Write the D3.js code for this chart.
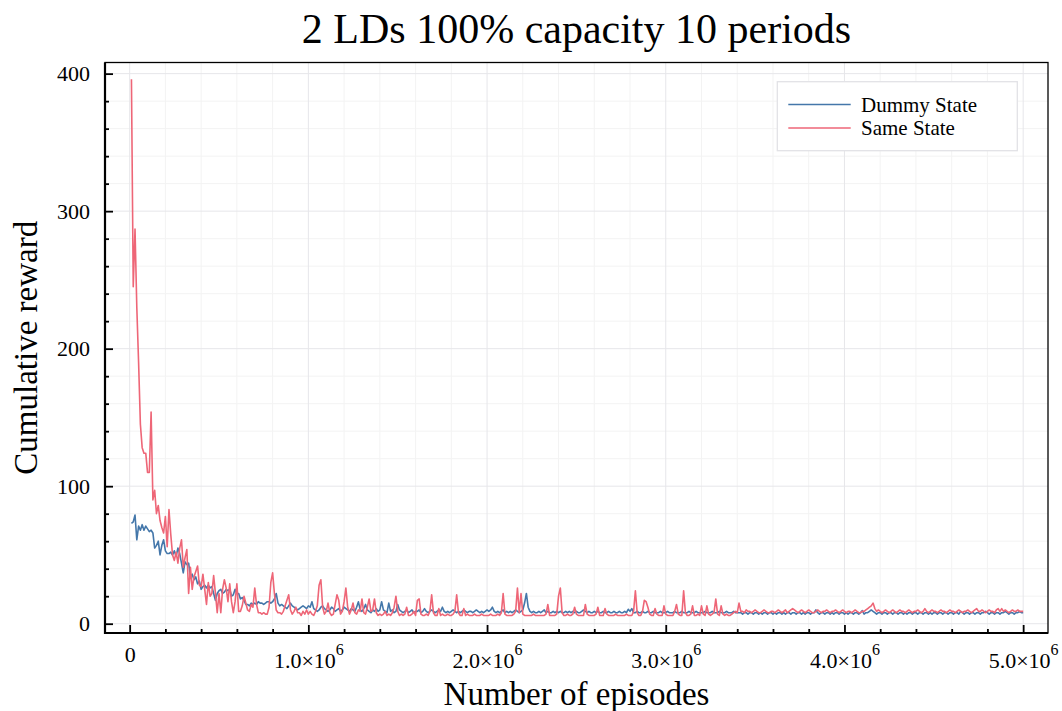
<!DOCTYPE html>
<html>
<head>
<meta charset="utf-8">
<script src="https://cdn.jsdelivr.net/npm/d3@7"></script>
<style>
  body { margin: 0; background: #fff; }
  svg { display: block; }
  text { font-family: "Liberation Serif", "Times New Roman", serif; fill: #000; }
</style>
</head>
<body>
<svg id="chart" width="1062" height="711"></svg>
<script>
// ---- chart data -------------------------------------------------------
const chartTitle = "2 LDs 100% capacity 10 periods";
const xAxisTitle = "Number of episodes";
const yAxisTitle = "Cumulative reward";
const seriesNames = ["Dummy State", "Same State"];
const seriesColors = ["#4477aa", "#ee6677"];

// one sample every 10 000 episodes, first sample at 10 000
const episodeStep = 10000;

const dummyState = [
  73, 74, 79, 61, 71, 68, 72, 68, 71, 69, 67, 68, 66, 55, 57, 60, 50, 57, 61, 53,
  51, 51, 52, 50, 53, 49, 55, 51, 44, 37, 45, 43, 44, 34, 36, 32, 34, 29, 31, 25,
  27, 28, 26, 28, 26, 27, 22, 17, 22, 24, 25, 22, 23, 25, 24, 25, 20, 21, 25, 22,
  22, 18, 19, 17, 14, 14, 13, 15, 14, 15, 14, 16, 15, 15, 14, 15, 16, 16, 15, 16,
  18, 22, 15, 13, 14, 13, 12, 11, 13, 15, 13, 12, 11, 10, 11, 12, 13, 12, 11, 13,
  12, 16, 11, 10, 9, 10, 12, 13, 11, 10, 9, 10, 12, 11, 9, 10, 11, 9, 10, 12,
  11, 10, 9, 11, 10, 9, 12, 16, 10, 9, 11, 14, 10, 9, 8, 10, 9, 11, 9, 10,
  16, 10, 9, 8, 15, 9, 10, 8, 9, 14, 10, 9, 8, 9, 10, 8, 9, 10, 8, 9,
  9, 10, 8, 9, 11, 9, 8, 9, 10, 9, 8, 9, 10, 9, 12, 9, 8, 9, 8, 9,
  10, 9, 8, 9, 8, 9, 10, 9, 8, 9, 9, 8, 9, 10, 9, 8, 9, 8, 9, 10,
  9, 10, 12, 9, 8, 9, 8, 9, 10, 8, 9, 8, 9, 8, 9, 10, 9, 8, 9, 10,
  15, 22, 12, 9, 8, 9, 8, 8, 9, 8, 9, 10, 8, 9, 8, 8, 9, 8, 9, 8,
  9, 8, 8, 9, 8, 9, 8, 9, 8, 9, 8, 8, 9, 10, 9, 8, 9, 8, 8, 9,
  8, 9, 8, 8, 9, 8, 8, 9, 8, 8, 9, 8, 8, 9, 8, 8, 9, 8, 10.5, 9,
  11, 8, 8, 9, 8, 8, 9, 8, 8, 9, 8, 8, 9, 8, 8, 8, 9, 8, 8, 8,
  9, 8, 8, 8, 9, 8, 8, 8, 9, 8, 8, 8, 9, 8, 8, 8, 9, 8, 8, 8,
  8, 9, 8, 8, 8, 9, 8, 8, 8, 9, 8, 8, 8, 9, 8, 8, 8, 9, 8, 8,
  8, 8, 7, 8, 8, 7, 8, 8, 7, 8, 8, 7, 8, 7, 8, 8, 7, 8, 8, 7,
  8, 7, 8, 8, 7, 8, 7, 8, 8, 7, 8, 8, 7, 8, 8, 7, 8, 7, 8, 8,
  7, 8, 8, 10, 8, 7, 8, 8, 7, 8, 8, 7, 8, 7, 8, 8, 7, 8, 8, 7,
  8, 7, 8, 8, 7, 8, 8, 7, 8, 9.5, 7, 8, 8, 9, 10, 9, 8, 7, 8, 8,
  7, 8, 8, 7, 8, 8, 7, 8, 8, 7, 8, 8, 7, 8, 7, 8, 8, 7, 8, 8,
  7, 8, 8, 7, 8, 8, 7, 8, 7, 8, 8, 7, 8, 8, 7, 8, 8, 7, 8, 8,
  7, 8, 8, 7, 9, 8, 7, 8, 8, 7, 8, 8, 7, 8, 8, 7, 8, 8, 9, 8,
  7, 8, 8, 7, 8, 8, 7, 8, 8, 9, 8, 7, 8, 8, 7, 8, 8, 9, 8, 8
];

const sameState = [
  396, 245, 287, 230, 190, 145, 128, 124, 124, 110, 110, 154, 90, 97, 80, 86, 75, 70, 66, 78,
  56, 83, 65, 50, 46, 52, 44, 55, 61, 41, 48, 54, 22, 41, 25, 34, 38, 42, 28, 27,
  36, 25, 14, 30, 20, 22, 35, 22, 8, 22, 8, 25, 32, 26, 16, 29, 16, 8, 16, 29,
  9, 9, 13, 20, 15, 10, 9, 14, 12, 26, 14, 8, 8, 7, 8, 7, 7, 12, 30, 37,
  22, 10, 8, 8, 7, 9, 13, 17, 21, 10, 7, 9, 12, 8, 8, 6, 9, 7, 10, 7,
  9, 7, 6, 9, 13, 28, 32, 12, 7, 9, 15, 8, 6, 7, 14, 21, 17, 7, 9, 16,
  26, 12, 7, 10, 15, 8, 7, 10, 9, 18, 8, 7, 12, 18, 9, 10, 18, 8, 6, 7,
  6, 7, 9, 6, 7, 6, 8, 12, 20, 9, 6, 7, 6, 7, 12, 6, 6, 7, 9, 6,
  17, 18, 7, 6, 6, 7, 6, 9, 21, 8, 6, 6, 11, 6, 7, 6, 6, 7, 6, 6,
  7, 9, 21, 8, 6, 6, 11, 6, 7, 6, 6, 6, 7, 6, 6, 6, 7, 6, 6, 6,
  6, 7, 6, 6, 6, 7, 6, 8, 22, 7, 6, 6, 6, 6, 7, 9, 26, 8, 22, 7,
  6, 6, 6, 6, 6, 7, 6, 6, 6, 6, 6, 6, 7, 14, 6, 6, 6, 6, 7, 20,
  26, 8, 6, 6, 7, 6, 6, 7, 12, 7, 6, 6, 6, 6, 14, 7, 6, 6, 6, 6,
  7, 12, 6, 6, 6, 11, 7, 6, 6, 6, 6, 7, 6, 6, 6, 6, 6, 7, 6, 6,
  6, 9, 24, 8, 6, 6, 9, 17, 16, 12, 7, 6, 6, 11, 7, 6, 6, 6, 13, 7,
  6, 6, 6, 6, 9, 14, 7, 6, 6, 24, 8, 6, 6, 7, 13, 6, 6, 7, 6, 13,
  7, 6, 13, 7, 6, 7, 8, 18, 7, 6, 13, 7, 6, 7, 6, 6, 7, 8, 9, 8,
  15, 9, 9, 8, 10, 9, 9, 8, 9, 10, 9, 8, 8, 9, 10, 9, 8, 8, 9, 9,
  8, 9, 10, 9, 8, 9, 10, 8, 9, 10, 11, 10, 9, 8, 9, 10, 9, 8, 9, 10,
  9, 8, 8, 9, 10, 9, 8, 9, 9, 10, 9, 8, 9, 9, 10, 9, 8, 9, 10, 9,
  8, 9, 9, 8, 9, 10, 9, 8, 8, 9, 9, 10, 11, 12, 13, 15, 11, 9, 10, 9,
  8, 9, 10, 9, 8, 9, 10, 9, 8, 9, 10, 9, 9, 8, 9, 10, 9, 8, 9, 9,
  10, 9, 8, 9, 11, 9, 8, 9, 10, 9, 9, 8, 9, 10, 9, 9, 8, 9, 10, 9,
  9, 8, 9, 10, 9, 8, 9, 9, 10, 9, 8, 9, 10, 11, 9, 9, 10, 9, 8, 9,
  10, 9, 9, 8, 10, 11, 9, 11, 9, 10, 9, 8, 9, 10, 9, 9, 10, 9, 9, 9
];

const xTickValues = [0, 1e6, 2e6, 3e6, 4e6, 5e6];
const xTickMantissas = ["0", "1.0", "2.0", "3.0", "4.0", "5.0"];
const xTickExponent = "6";
const yTickValues = [0, 100, 200, 300, 400];
const xMinorStep = 2e5;
const yMinorStep = 20;

// ---- layout -----------------------------------------------------------
const plot = { left: 105, top: 62.5, right: 1048, bottom: 633 };
const svg = d3.select("#chart");

const x = d3.scaleLinear().domain([-138000, 5139000]).range([plot.left, plot.right]);
const y = d3.scaleLinear().domain([-6.76, 408.1]).range([plot.bottom, plot.top]);

const episodes = dummyState.map((_, i) => (i + 1) * episodeStep);
const xMinor = d3.range(0, 5e6 + 1, xMinorStep).filter(v => !xTickValues.includes(v));
const yMinor = d3.range(0, 400 + 1, yMinorStep).filter(v => !yTickValues.includes(v));

svg.append("rect").attr("width", 1062).attr("height", 711).attr("fill", "#fff");

// grid: faint minor lines, slightly stronger major lines
const grid = svg.append("g");
grid.selectAll(".gxm").data(xMinor).join("line")
  .attr("x1", d => x(d)).attr("x2", d => x(d))
  .attr("y1", plot.top).attr("y2", plot.bottom)
  .attr("stroke", "#f3f3f3").attr("stroke-width", 1);
grid.selectAll(".gym").data(yMinor).join("line")
  .attr("y1", d => y(d)).attr("y2", d => y(d))
  .attr("x1", plot.left).attr("x2", plot.right)
  .attr("stroke", "#f3f3f3").attr("stroke-width", 1);
grid.selectAll(".gx").data(xTickValues).join("line")
  .attr("x1", d => x(d)).attr("x2", d => x(d))
  .attr("y1", plot.top).attr("y2", plot.bottom)
  .attr("stroke", "#e6e6ea").attr("stroke-width", 1);
grid.selectAll(".gy").data(yTickValues).join("line")
  .attr("y1", d => y(d)).attr("y2", d => y(d))
  .attr("x1", plot.left).attr("x2", plot.right)
  .attr("stroke", "#e6e6ea").attr("stroke-width", 1);

// series
svg.append("clipPath").attr("id", "plotClip").append("rect")
  .attr("x", plot.left).attr("y", plot.top)
  .attr("width", plot.right - plot.left).attr("height", plot.bottom - plot.top);

const line = d3.line().x((d, i) => x(episodes[i])).y(d => y(d));
const lines = svg.append("g").attr("clip-path", "url(#plotClip)");
[dummyState, sameState].forEach((s, k) => {
  lines.append("path").datum(s)
    .attr("d", line)
    .attr("fill", "none")
    .attr("stroke", seriesColors[k])
    .attr("stroke-width", 1.6)
    .attr("stroke-linejoin", "round");
});

// axes with inward ticks
const yAxis = svg.append("g").attr("transform", `translate(${plot.left},0)`)
  .call(d3.axisLeft(y).tickValues(yTickValues).tickSize(-8).tickPadding(15));
const yAxisMinor = svg.append("g").attr("transform", `translate(${plot.left},0)`)
  .call(d3.axisLeft(y).tickValues(yMinor).tickSize(-4).tickFormat(""));
const xAxis = svg.append("g").attr("transform", `translate(0,${plot.bottom})`)
  .call(d3.axisBottom(x).tickValues(xTickValues).tickSize(-8).tickFormat(""));
const xAxisMinor = svg.append("g").attr("transform", `translate(0,${plot.bottom})`)
  .call(d3.axisBottom(x).tickValues(xMinor).tickSize(-4).tickFormat(""));

[yAxis, yAxisMinor, xAxis, xAxisMinor].forEach(a => {
  a.select(".domain").remove();
  a.selectAll(".tick line").attr("stroke", "#000").attr("stroke-width", 1.8);
});
yAxis.selectAll(".tick text")
  .attr("font-family", '"Liberation Serif", serif')
  .attr("font-size", 22).attr("dy", "0.33em");

// x tick labels: mantissa × 10^exponent
xAxis.selectAll(".tick").each(function (d, i) {
  const t = d3.select(this).append("text")
    .attr("text-anchor", "middle")
    .attr("font-family", '"Liberation Serif", serif')
    .attr("font-size", 22)
    .attr("fill", "#000");
  if (d === 0) {
    t.attr("y", 29).text(xTickMantissas[i]);
  } else {
    t.attr("y", 35);
    t.append("tspan").text(xTickMantissas[i] + "\u00d710");
    t.append("tspan").attr("dy", -13).attr("font-size", 16).text(xTickExponent);
  }
});

// frame
svg.append("rect")
  .attr("x", plot.left).attr("y", plot.top)
  .attr("width", plot.right - plot.left).attr("height", plot.bottom - plot.top)
  .attr("fill", "none").attr("stroke", "#000").attr("stroke-width", 1.3);
svg.append("line").attr("x1", plot.left).attr("x2", plot.left)
  .attr("y1", plot.top).attr("y2", plot.bottom + 1)
  .attr("stroke", "#000").attr("stroke-width", 2.2);
svg.append("line").attr("x1", plot.left - 1).attr("x2", plot.right)
  .attr("y1", plot.bottom).attr("y2", plot.bottom)
  .attr("stroke", "#000").attr("stroke-width", 2.2);

// titles
svg.append("text").attr("x", (plot.left + plot.right) / 2).attr("y", 43)
  .attr("text-anchor", "middle").attr("font-size", 42).text(chartTitle);
svg.append("text").attr("x", (plot.left + plot.right) / 2).attr("y", 705)
  .attr("text-anchor", "middle").attr("font-size", 33).text(xAxisTitle);
svg.append("text")
  .attr("transform", `translate(37,${(plot.top + plot.bottom) / 2}) rotate(-90)`)
  .attr("text-anchor", "middle").attr("font-size", 33).text(yAxisTitle);

// legend
const legend = svg.append("g");
legend.append("rect").attr("x", 777.3).attr("y", 81.7).attr("width", 240).attr("height", 69)
  .attr("fill", "#fff").attr("stroke", "#e2e2e6").attr("stroke-width", 1.3);
seriesNames.forEach((name, k) => {
  const cy = 104.5 + k * 23.5;
  legend.append("line").attr("x1", 788.3).attr("x2", 850.7).attr("y1", cy).attr("y2", cy)
    .attr("stroke", seriesColors[k]).attr("stroke-width", 1.6);
  legend.append("text").attr("x", 861).attr("y", cy + 7)
    .attr("font-size", 21).text(name);
});
</script>
</body>
</html>
